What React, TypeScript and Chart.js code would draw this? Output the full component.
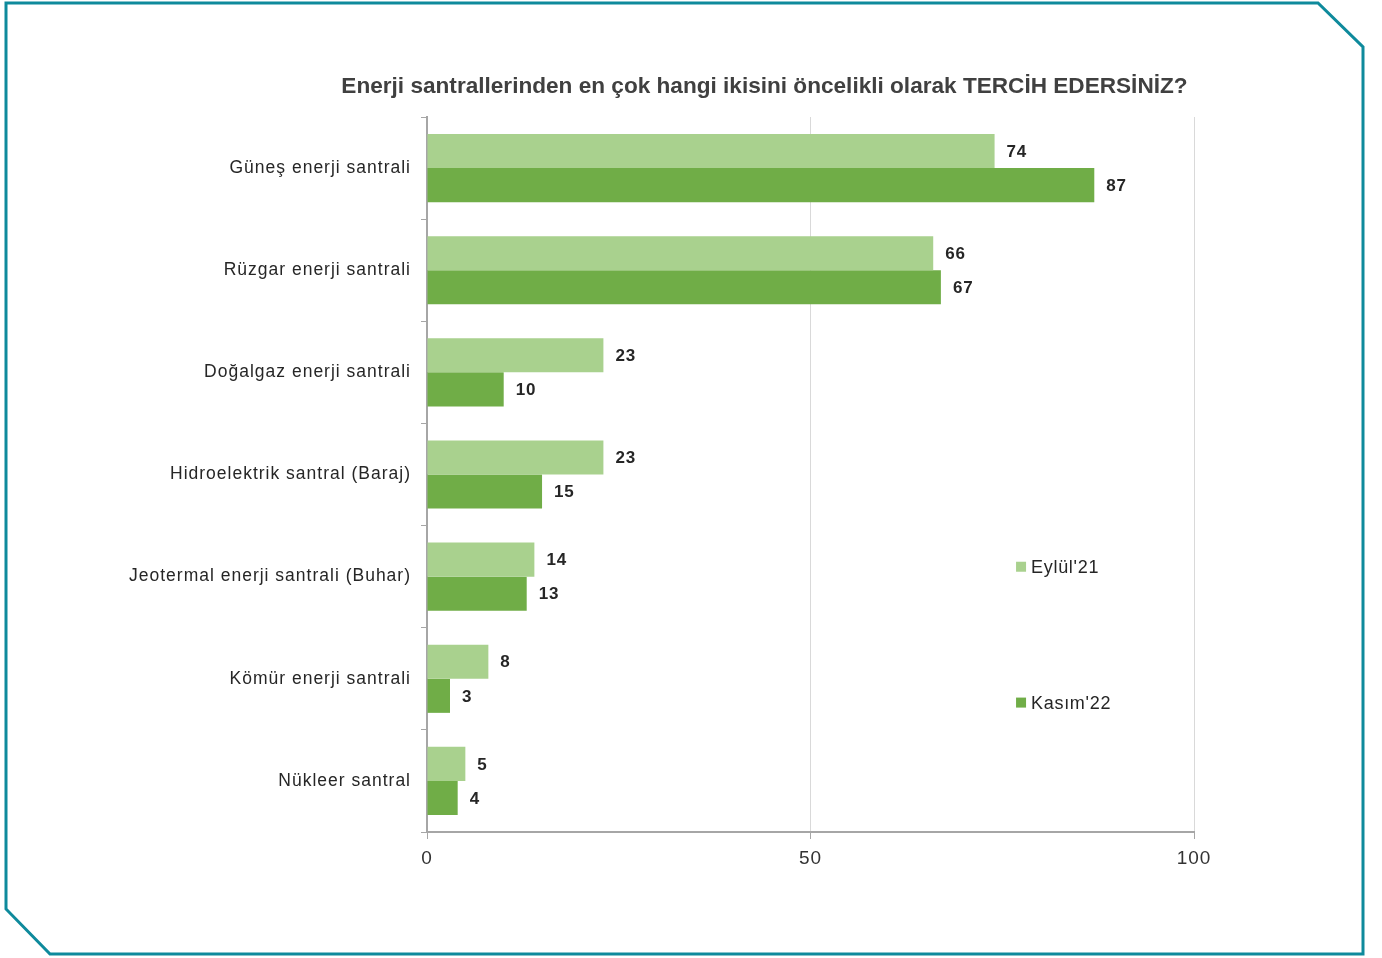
import React, { useEffect, useRef } from "react";
import { Chart, registerables } from "chart.js";

Chart.register(...registerables);

const categories = [
  "Güneş enerji santrali",
  "Rüzgar enerji santrali",
  "Doğalgaz enerji santrali",
  "Hidroelektrik santral (Baraj)",
  "Jeotermal enerji santrali (Buhar)",
  "Kömür enerji santrali",
  "Nükleer santral",
];
const eylul21 = [74, 66, 23, 23, 14, 8, 5];
const kasim22 = [87, 67, 10, 15, 13, 3, 4];
const seriesNames = ["Eylül'21", "Kasım'22"];
const seriesColors = ["#a9d18e", "#70ad47"];
const xTicks = [0, 50, 100];
const titleText = "Enerji santrallerinden en çok hangi ikisini öncelikli olarak TERCİH EDERSİNİZ?";

const W = 1382;
const H = 958;

const framePlugin = {
  id: "frame",
  beforeInit(chart: any) {
    (chart.ctx as any).letterSpacing = "1px";
  },
  beforeDraw(chart: any) {
    const ctx = chart.ctx;
    (ctx as any).letterSpacing = "1px";
    ctx.save();
    ctx.fillStyle = "#ffffff";
    ctx.fillRect(0, 0, W, H);
    ctx.strokeStyle = "#0e8a9c";
    ctx.lineWidth = 3;
    ctx.beginPath();
    ctx.moveTo(6, 3);
    ctx.lineTo(1318, 3);
    ctx.lineTo(1363, 47);
    ctx.lineTo(1363, 954);
    ctx.lineTo(50, 954);
    ctx.lineTo(6, 909);
    ctx.closePath();
    ctx.stroke();
    ctx.restore();
  },
  afterDraw(chart: any) {
    const ctx = chart.ctx;
    const area = chart.chartArea;
    ctx.save();
    // title
    (ctx as any).letterSpacing = "0px";
    ctx.fillStyle = "#404040";
    ctx.font = "bold 22.6px 'Liberation Sans', sans-serif";
    ctx.textAlign = "center";
    ctx.textBaseline = "middle";
    ctx.fillText(titleText, area.left + (area.right - area.left) * 0.44, 87);

    // data labels
    (ctx as any).letterSpacing = "0.8px";
    ctx.font = "bold 17px 'Liberation Sans', sans-serif";
    ctx.fillStyle = "#262626";
    ctx.textAlign = "left";
    chart.data.datasets.forEach((ds: any, di: number) => {
      const meta = chart.getDatasetMeta(di);
      meta.data.forEach((bar: any, i: number) => {
        ctx.fillText(String(ds.data[i]), bar.x + 12, bar.y + 1);
      });
    });

    // legend
    (ctx as any).letterSpacing = "0.7px";
    const lx = area.left + (area.right - area.left) * 0.768;
    const ys = [
      area.top + (area.bottom - area.top) * 0.629,
      area.top + (area.bottom - area.top) * 0.819,
    ];
    ctx.font = "18px 'Liberation Sans', sans-serif";
    ctx.textBaseline = "middle";
    seriesNames.forEach((name, i) => {
      ctx.fillStyle = seriesColors[i];
      ctx.fillRect(lx, ys[i] - 5, 10, 10);
      ctx.fillStyle = "#262626";
      ctx.fillText(name, lx + 15, ys[i] + 1);
    });
    ctx.restore();
  },
};

export default function App() {
  const ref = useRef<HTMLCanvasElement | null>(null);

  useEffect(() => {
    document.body.style.margin = "0";
    const canvas = ref.current;
    if (!canvas) return;
    const chart = new Chart(canvas, {
      type: "bar",
      data: {
        labels: categories,
        datasets: [
          {
            label: seriesNames[0],
            data: eylul21,
            backgroundColor: seriesColors[0],
            categoryPercentage: 0.667,
            barPercentage: 1.0,
          },
          {
            label: seriesNames[1],
            data: kasim22,
            backgroundColor: seriesColors[1],
            categoryPercentage: 0.667,
            barPercentage: 1.0,
          },
        ],
      },
      options: {
        indexAxis: "y",
        responsive: false,
        animation: false,
        devicePixelRatio: 1,
        layout: { padding: { top: 117, right: 188, left: 0, bottom: 0 } },
        plugins: {
          legend: { display: false },
          title: { display: false },
          tooltip: { enabled: false },
        },
        scales: {
          x: {
            min: 0,
            max: 100,
            afterBuildTicks(scale: any) {
              scale.ticks = xTicks.map((v) => ({ value: v }));
            },
            afterFit(scale: any) {
              scale.height = 126;
            },
            grid: {
              color: "#d9d9d9",
              lineWidth: 1,
              tickLength: 7,
              tickColor: "#a6a6a6",
            },
            border: { color: "#a6a6a6", width: 2 },
            ticks: {
              color: "#333333",
              font: { family: "'Liberation Sans', sans-serif", size: 19 },
              padding: 8,
            },
          },
          y: {
            afterFit(scale: any) {
              scale.width = 427;
            },
            grid: {
              offset: true,
              drawOnChartArea: false,
              tickLength: 6,
              tickColor: "#a6a6a6",
            },
            border: { color: "#a6a6a6", width: 2 },
            ticks: {
              color: "#262626",
              font: { family: "'Liberation Sans', sans-serif", size: 17.5 },
              padding: 10,
            },
          },
        },
      },
      plugins: [framePlugin],
    } as any);
    return () => chart.destroy();
  }, []);

  return (
    <div style={{ width: W, height: H }}>
      <canvas ref={ref} width={W} height={H} style={{ display: "block", width: W, height: H }} />
    </div>
  );
}
